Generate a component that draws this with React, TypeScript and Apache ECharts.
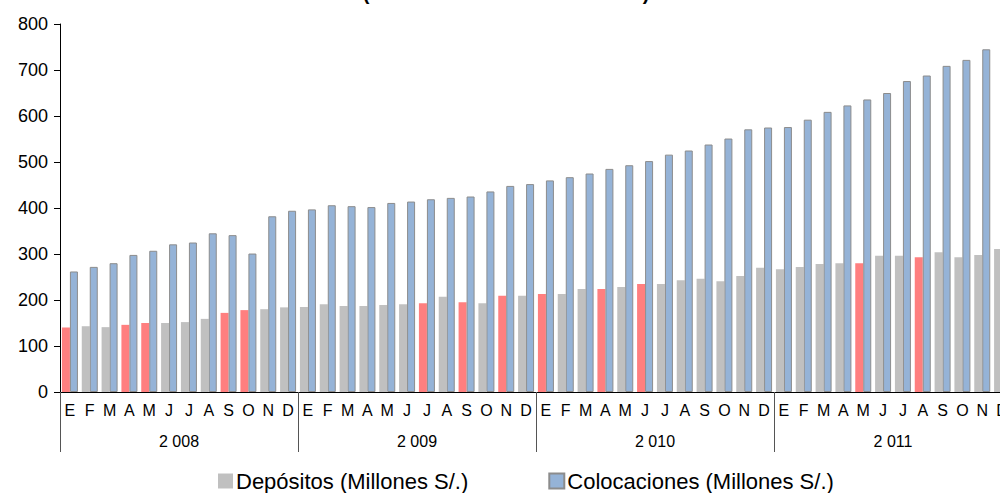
import React, { useEffect, useRef } from "react";
import * as echarts from "echarts";

const monthLetters = ["E", "F", "M", "A", "M", "J", "J", "A", "S", "O", "N", "D"];
const years = ["2 008", "2 009", "2 010", "2 011"];

const depositos = [
  140, 143, 141, 146, 150, 150, 152, 159, 172, 178, 180, 184,
  185, 191, 187, 187, 189, 191, 193, 207, 195, 193, 209, 209,
  213, 213, 224, 224, 228, 235, 235, 243, 246, 241, 252, 270,
  267, 272, 278, 280, 280, 296, 296, 293, 304, 293, 298, 311,
];

const colocaciones = [
  262, 272, 280, 298, 307, 321, 325, 345, 341, 301, 382, 394,
  397, 406, 404, 402, 411, 414, 419, 422, 425, 436, 448, 452,
  460, 467, 475, 485, 493, 502, 516, 525, 538, 551, 571, 575,
  576, 592, 609, 623, 636, 650, 676, 688, 709, 722, 745, 760,
];

// indices of deposit bars drawn in red
const highlighted = [0, 3, 4, 8, 9, 18, 20, 22, 24, 27, 29, 40, 43];

const yTicks = [0, 100, 200, 300, 400, 500, 600, 700, 800];

const titleText = "(En millones de nuevos soles)";

const FONT = "'Liberation Sans', Arial, sans-serif";

const GRAY = "#c0c0c0";
const BLUE = "#95b3d7";
const RED = "#ff7f7f";

export default function App() {
  const ref = useRef<HTMLDivElement>(null);

  useEffect(() => {
    if (!ref.current) return;
    const chart = echarts.init(ref.current, undefined, { renderer: "svg" });
    const categories: string[] = [];
    years.forEach(() => monthLetters.forEach((m) => categories.push(m)));

    chart.setOption({
      animation: false,
      title: {
        text: titleText,
        left: "center",
        top: -22,
        textStyle: { fontSize: 20, fontWeight: "bold", fontFamily: FONT, color: "#000" },
      },
      legend: {
        data: ["Depósitos (Millones S/.)", "Colocaciones (Millones S/.)"],
        left: 218,
        top: 470,
        padding: 0,
        itemWidth: 15,
        itemHeight: 15,
        itemGap: 80,
        icon: "rect",
        textStyle: { fontSize: 22, lineHeight: 22, fontFamily: FONT, color: "#000", padding: [0, 0, 0, -2] },
      },
      grid: { left: 60, right: 0, top: 24, bottom: 101, containLabel: false },
      xAxis: [
        {
          type: "category",
          data: categories,
          position: "bottom",
          axisLine: { show: true, lineStyle: { color: "#000", width: 1 } },
          axisTick: { show: false },
          axisLabel: { interval: 0, fontSize: 16, fontFamily: FONT, color: "#000", margin: 10 },
        },
        {
          type: "category",
          data: years,
          position: "bottom",
          axisLine: { show: false },
          axisTick: { show: true, length: 60, lineStyle: { color: "#555", width: 1 } },
          axisLabel: { interval: 0, fontSize: 16, fontFamily: FONT, color: "#000", margin: 41 },
        },
      ],
      yAxis: {
        type: "value",
        min: yTicks[0],
        max: yTicks[yTicks.length - 1],
        interval: 100,
        axisLine: { show: true, lineStyle: { color: "#000", width: 1 } },
        axisTick: { show: true, length: 6, lineStyle: { color: "#000" } },
        splitLine: { show: false },
        axisLabel: { fontSize: 18, fontFamily: FONT, color: "#000", margin: 12 },
      },
      series: [
        {
          name: "Depósitos (Millones S/.)",
          type: "bar",
          xAxisIndex: 0,
          barWidth: 8,
          barGap: "0%",
          itemStyle: { color: GRAY },
          data: depositos.map((v, i) =>
            highlighted.includes(i) ? { value: v, itemStyle: { color: RED } } : v
          ),
        },
        {
          name: "Colocaciones (Millones S/.)",
          type: "bar",
          xAxisIndex: 0,
          barWidth: 8,
          barGap: "0%",
          itemStyle: { color: BLUE, borderColor: "#8c8c8c", borderWidth: 1 },
          data: colocaciones,
        },
      ],
    });

    return () => chart.dispose();
  }, []);

  return (
    <div style={{ position: "absolute", left: 0, top: 0, width: 1000, height: 493, overflow: "hidden", background: "#fff" }}>
      <div ref={ref} style={{ width: 1012, height: 493 }} />
    </div>
  );
}
